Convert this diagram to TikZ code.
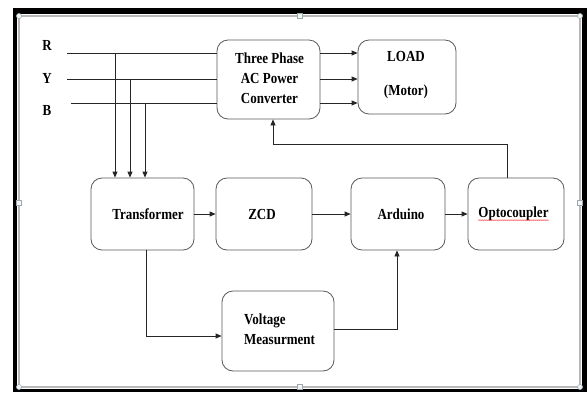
\documentclass[tikz,border=0pt]{standalone}
\usepackage{fontspec}
\setmainfont{Liberation Serif}
\usetikzlibrary{arrows.meta,calc,decorations.pathmorphing}
\newcommand{\tallt}[1]{\scalebox{1}[1.18]{#1}}
\begin{document}
\begin{tikzpicture}[x=1pt,y=-1pt,
  blk/.style={draw=black!65, line width=0.8pt, rounded corners=11pt, fill=white},
  lbl/.style={font=\fontsize{13}{20}\selectfont\bfseries, inner sep=0pt},
  wire/.style={draw=black!85, line width=0.8pt},
  arr/.style={wire, -{Triangle[length=6pt,width=5pt]}},
  handle/.style={draw=gray!70, fill=cyan!8, line width=0.5pt}]
\useasboundingbox (0,0) rectangle (587,392);
% window frame
\fill[black] (13,8) rectangle (587,392);
\fill[white] (17,14) rectangle (582,389);
\draw[gray!55, line width=2.6pt] (19,16) rectangle (580,387);
\fill[white] (20.5,17.5) rectangle (578.5,385.5);
% handles
\foreach \p in {(19,16),(580,16),(19,387),(580,387)} \filldraw[handle] \p circle (2.6);
\foreach \p in {(300,16),(19,203),(580,203),(300,387)} \filldraw[handle] \p ++(-2.5,-2.5) rectangle ++(5,5);
% blocks
\node[blk, minimum width=103pt, minimum height=79pt] (conv) at (268.5,79.5) {};
\node[lbl, align=center] (convt) at (269.5,78.5) {\tallt{Three Phase}\\\tallt{AC Power}\\\tallt{Converter}};
\node[blk, minimum width=98pt, minimum height=74pt] (load) at (407,77) {};
\node[lbl, align=center] (loadt) at (406,75) {\tallt{LOAD}\\[14pt]\tallt{(Motor)}};
\node[blk, minimum width=103pt, minimum height=72pt] (trans) at (142.5,214) {};
\node[lbl] (transt) at (148,214) {\tallt{Transformer}};
\node[blk, minimum width=96pt, minimum height=72pt] (zcd) at (264,214) {};
\node[lbl] (zcdt) at (262,214) {\tallt{ZCD}};
\node[blk, minimum width=94pt, minimum height=72pt] (ard) at (398,214) {};
\node[lbl] (ardt) at (401,214) {\tallt{Arduino}};
\node[blk, minimum width=96pt, minimum height=72pt] (opto) at (516,214) {};
\node[lbl] (optot) at (513.5,214) {\tallt{Optocoupler}};
\node[blk, minimum width=112pt, minimum height=80pt] (volt) at (278,331) {};
\node[lbl, anchor=west, align=left] (voltt) at (244,329) {\tallt{Voltage}\\\tallt{Measurment}};
% spell-check squiggle
\draw[red!75, line width=0.4pt, decorate, decoration={snake,amplitude=0.6pt,segment length=2pt}]
  ($(optot.base west)+(0,2.5)$) -- ($(optot.base east)+(0,2.5)$);
% phase labels and lines
\node[lbl] (R) at (47,45) {\tallt{R}};
\node[lbl] (Y) at (47,78) {\tallt{Y}};
\node[lbl] (B) at (47,110) {\tallt{B}};
\coordinate (Rs) at (67,53);
\coordinate (Ys) at (67,79);
\coordinate (Bs) at (71,103);
\draw[wire] (Rs) -- (Rs -| conv.west);
\draw[wire] (Ys) -- (Ys -| conv.west);
\draw[wire] (Bs) -- (Bs -| conv.west);
\coordinate (r1) at (115,53);
\coordinate (y1) at (130,79);
\coordinate (b1) at (145,103);
\draw[arr] (r1) -- (r1 |- trans.north);
\draw[arr] (y1) -- (y1 |- trans.north);
\draw[arr] (b1) -- (b1 |- trans.north);
% converter to load
\draw[arr] (Rs -| conv.east) -- (Rs -| load.west);
\draw[arr] (Ys -| conv.east) -- (Ys -| load.west);
\draw[arr] (Bs -| conv.east) -- (Bs -| load.west);
% feedback from optocoupler
\coordinate (fb) at (273,144);
\draw[arr] ([xshift=-9pt]opto.north) |- (fb) -- (fb |- conv.south);
% main chain
\draw[arr] (trans.east) -- (zcd.west);
\draw[arr] (zcd.east) -- (ard.west);
\draw[arr] (ard.east) -- (opto.west);
\draw[arr] ([xshift=3.5pt]trans.south) |- ([yshift=-5pt]volt.west);
\draw[arr] ([yshift=2pt]volt.east) -| ([xshift=-1pt]ard.south);
\end{tikzpicture}
\end{document}
